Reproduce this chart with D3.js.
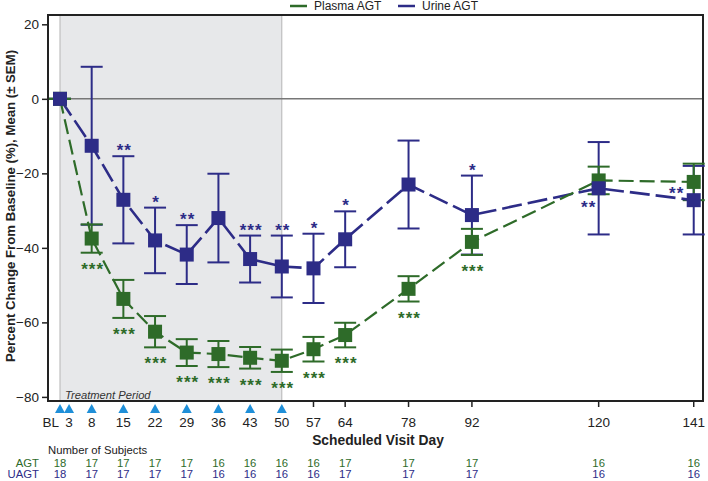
<!DOCTYPE html>
<html><head><meta charset="utf-8">
<script src="https://cdn.jsdelivr.net/npm/d3@7/dist/d3.min.js"></script>
<style>body{margin:0;background:#fff}svg{display:block;font-family:"Liberation Sans",Arial,sans-serif}</style>
</head><body><svg id="c" width="708" height="481"></svg>
<script>
// ---- data ----
const dataDays   = [1, 8, 15, 22, 29, 36, 43, 50, 57, 64, 78, 92, 120, 141];
const plasmaMean = [0, -37.5, -53.7, -62.5, -68.1, -68.5, -69.5, -70.3, -67.2, -63.4, -51.0, -38.4, -21.9, -22.3];
const plasmaSEM  = [0, 3.8, 5.1, 4.2, 3.6, 3.5, 2.9, 3.0, 3.3, 3.3, 3.4, 3.5, 3.7, 4.9];
const urineMean  = [0, -12.6, -27.1, -38.0, -41.8, -32.0, -43.0, -45.0, -45.5, -37.7, -23.0, -31.2, -24.0, -27.2];
const urineSEM   = [0, 21.2, 11.7, 8.8, 7.9, 11.9, 6.3, 8.3, 9.3, 7.5, 11.8, 10.6, 12.4, 9.2];
const plasmaStars = ["", "***", "***", "***", "***", "***", "***", "***", "***", "***", "***", "***", "", ""];
const urineStars  = ["", "", "**", "*", "**", "", "***", "**", "*", "*", "", "*", "**", "**"];
const urineStarPlace = ["above","above","above","above","above","above","above","above","above","above","above","above","belowLeft","left"];
const agtN  = [18, 17, 17, 17, 17, 16, 16, 16, 16, 17, 17, 17, 16, 16];
const uagtN = [18, 17, 17, 17, 17, 16, 16, 16, 16, 17, 17, 17, 16, 16];
const tickDays   = [1, 3, 8, 15, 22, 29, 36, 43, 50, 57, 64, 78, 92, 120, 141];
const tickLabels = ["BL", "3", "8", "15", "22", "29", "36", "43", "50", "57", "64", "78", "92", "120", "141"];
const dosingDays = [1, 3, 8, 15, 22, 29, 36, 43, 50];
const yTicks = [20, 0, -20, -40, -60, -80];
const treatment = [1, 50];

const GREEN = "#2e6b29", BLUE = "#2d2c87", TRI = "#1f8fd8";
const svg = d3.select("#c");
const L = 48, R = 703, T = 15, B = 401;
const x = d3.scaleLinear().domain([-1.65, 143.05]).range([L, R]);
const y = d3.scaleLinear().domain([-81.1, 22.5]).range([B, T]);

// treatment shade
svg.append("rect").attr("x", x(treatment[0])).attr("y", T).attr("width", x(treatment[1]) - x(treatment[0]))
  .attr("height", B - T).attr("fill", "#e7e8ea");
[treatment[0], treatment[1]].forEach(d => svg.append("line").attr("x1", x(d)).attr("x2", x(d))
  .attr("y1", T).attr("y2", B).attr("stroke", "#b5b5b5").attr("stroke-width", 1));
svg.append("text").attr("x", x(treatment[0]) + 5).attr("y", 395).attr("dy", "0.35em")
  .attr("font-size", 11.2).attr("font-style", "italic").attr("fill", "#333").text("Treatment Period");

// zero line
svg.append("line").attr("x1", L).attr("x2", R).attr("y1", y(0)).attr("y2", y(0))
  .attr("stroke", "#777").attr("stroke-width", 1.5);

// y axis
const yAxis = d3.axisLeft(y).tickValues(yTicks).tickSize(6).tickPadding(3);
const ga = svg.append("g").attr("transform", `translate(${L},0)`).call(yAxis);
ga.select(".domain").remove();
ga.selectAll("text").attr("font-size", 13.5).attr("fill", "#222").attr("font-family", "Liberation Sans, Arial, sans-serif");
ga.selectAll("line").attr("stroke", "#222").attr("stroke-width", 1.5);
svg.append("text").attr("transform", `translate(10,206) rotate(-90)`).attr("text-anchor", "middle")
  .attr("dy", "0.35em").attr("font-size", 13.2).attr("font-weight", "bold").attr("fill", "#222")
  .text("Percent Change From Baseline (%),  Mean (± SEM)");

// x axis ticks (non-dosing)
const xa = svg.append("g");
tickDays.forEach((d, i) => {
  if (!dosingDays.includes(d)) {
    xa.append("line").attr("x1", x(d)).attr("x2", x(d)).attr("y1", B).attr("y2", B + 6)
      .attr("stroke", "#222").attr("stroke-width", 1.5);
  }
  const isBL = i === 0;
  xa.append("text").attr("x", isBL ? x(d) - 1 : x(d)).attr("y", 422).attr("dy", "0.35em")
    .attr("text-anchor", isBL ? "end" : "middle").attr("font-size", 13.5).attr("fill", "#222").text(tickLabels[i]);
});
// dosing triangles
svg.selectAll("path.tri").data(dosingDays).join("path").attr("class", "tri")
  .attr("d", d => `M${x(d) - 5},413 L${x(d) + 5},413 L${x(d)},404 Z`).attr("fill", TRI);
svg.append("text").attr("x", 378).attr("y", 440).attr("dy", "0.35em").attr("text-anchor", "middle")
  .attr("font-size", 13.8).attr("font-weight", "bold").attr("fill", "#222").text("Scheduled Visit Day");

// frame
svg.append("rect").attr("x", L).attr("y", T).attr("width", R - L).attr("height", B - T)
  .attr("fill", "none").attr("stroke", "#222").attr("stroke-width", 2);

// series
const series = [
  { mean: urineMean, sem: urineSEM, color: BLUE, dash: "20,6", w: 2.6 },
  { mean: plasmaMean, sem: plasmaSEM, color: GREEN, dash: "15,6", w: 2.2 }
];
const line = d3.line().x(d => x(d[0])).y(d => y(d[1]));
series.forEach(s => {
  const g = svg.append("g");
  dataDays.forEach((d, i) => {
    const cx = x(d), hi = y(s.mean[i] + s.sem[i]), lo = y(s.mean[i] - s.sem[i]);
    g.append("line").attr("x1", cx).attr("x2", cx).attr("y1", hi).attr("y2", lo).attr("stroke", s.color).attr("stroke-width", 2);
    [hi, lo].forEach(yy => g.append("line").attr("x1", cx - 11).attr("x2", cx + 11).attr("y1", yy).attr("y2", yy)
      .attr("stroke", s.color).attr("stroke-width", 2));
  });
});
series.forEach(s => {
  svg.append("path").attr("d", line(dataDays.map((d, i) => [d, s.mean[i]]))).attr("fill", "none")
    .attr("stroke", s.color).attr("stroke-width", s.w).attr("stroke-dasharray", s.dash);
});
[series[1], series[0]].forEach(s => {
  svg.append("g").selectAll("rect").data(dataDays).join("rect")
    .attr("x", (d) => x(d) - 7).attr("y", (d, i) => y(s.mean[i]) - 7).attr("width", 14).attr("height", 14)
    .attr("fill", s.color);
});

// stars
const starG = svg.append("g").attr("font-size", 17).attr("font-weight", "bold").attr("text-anchor", "middle");
dataDays.forEach((d, i) => {
  if (plasmaStars[i]) {
    starG.append("text").attr("x", x(d) + 1).attr("y", y(plasmaMean[i] - plasmaSEM[i]) + 12 + 10)
      .attr("fill", GREEN).attr("letter-spacing", 1).text(plasmaStars[i]);
  }
  if (urineStars[i]) {
    let sx = x(d), sy = y(urineMean[i] + urineSEM[i]) - 10;
    if (urineStarPlace[i] === "belowLeft") { sx = x(d) - 11; sy = y(urineMean[i]) + 15; }
    if (urineStarPlace[i] === "left") { sx = x(d) - 18; sy = y(urineMean[i]) - 11; }
    starG.append("text").attr("x", sx + 1).attr("y", sy + 10).attr("fill", BLUE).attr("letter-spacing", 1).text(urineStars[i]);
  }
});

// legend
const leg = [{ label: "Plasma AGT", color: GREEN, x: 290 }, { label: "Urine AGT", color: BLUE, x: 398 }];
leg.forEach(l => {
  svg.append("line").attr("x1", l.x).attr("x2", l.x + 17).attr("y1", 6).attr("y2", 6).attr("stroke", l.color).attr("stroke-width", 2.5);
  svg.append("text").attr("x", l.x + 24).attr("y", 6).attr("dy", "0.35em").attr("font-size", 12).attr("fill", "#222").text(l.label);
});

// table
svg.append("text").attr("x", 48).attr("y", 450).attr("dy", "0.35em").attr("font-size", 11.3).attr("fill", "#222").text("Number of Subjects");
[{ lab: "AGT", n: agtN, c: GREEN, yy: 463.5 }, { lab: "UAGT", n: uagtN, c: BLUE, yy: 474.5 }].forEach(r => {
  svg.append("text").attr("x", 39).attr("y", r.yy).attr("dy", "0.35em").attr("text-anchor", "end").attr("font-size", 11.3).attr("fill", r.c).text(r.lab);
  svg.append("g").selectAll("text").data(dataDays).join("text").attr("x", d => x(d)).attr("y", r.yy).attr("dy", "0.35em")
    .attr("text-anchor", "middle").attr("font-size", 11.3).attr("fill", r.c).text((d, i) => r.n[i]);
});
</script></body></html>
